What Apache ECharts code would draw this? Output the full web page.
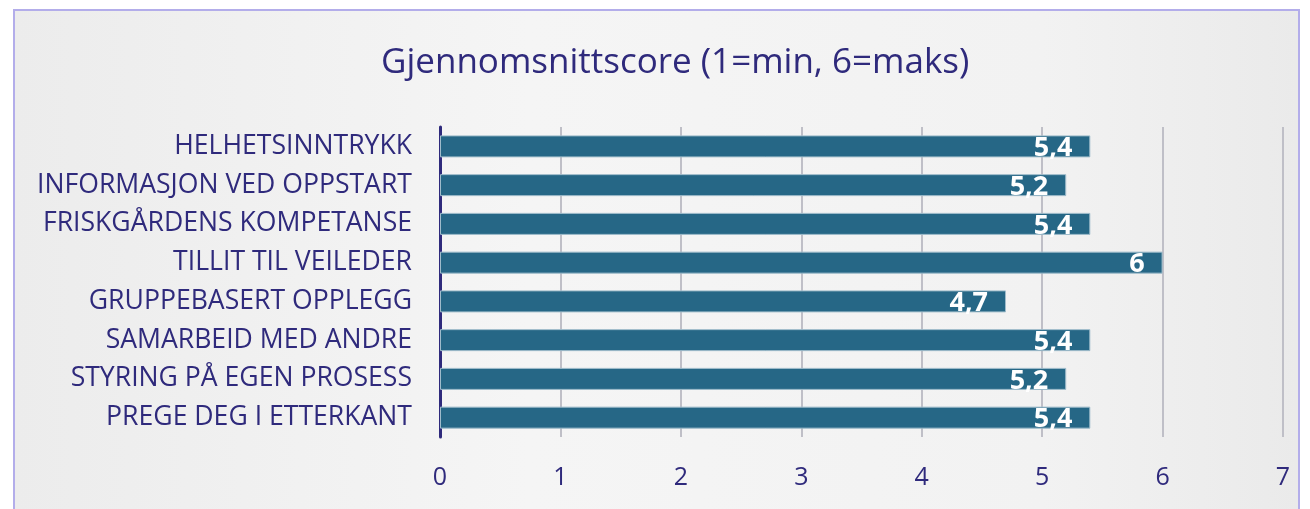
<!DOCTYPE html>
<html>
<head>
<meta charset="utf-8">
<script src="https://cdn.jsdelivr.net/npm/echarts@6/dist/echarts.min.js"></script>
<style>
  html, body { margin: 0; padding: 0; background: #fff; }
  .frame {
    position: absolute; left: 13px; top: 9px; width: 1287px; height: 510px;
    border: 2px solid #b3adea; box-sizing: border-box;
    background: linear-gradient(to right, #ececec, #f5f5f5 40%, #f2f2f2 80%, #eaeaea);
  }
  #main { position: absolute; left: 0; top: 0; width: 1310px; height: 509px; }
</style>
</head>
<body>
<div class="frame"></div>
<div id="main"></div>
<script>
// kategorier, ovenfra og ned
var categories = [
  "HELHETSINNTRYKK",
  "INFORMASJON VED OPPSTART",
  "FRISKGÅRDENS KOMPETANSE",
  "TILLIT TIL VEILEDER",
  "GRUPPEBASERT OPPLEGG",
  "SAMARBEID MED ANDRE",
  "STYRING PÅ EGEN PROSESS",
  "PREGE DEG I ETTERKANT"
];
var scores = [5.4, 5.2, 5.4, 6, 4.7, 5.4, 5.2, 5.4];
var xTicks = [0, 1, 2, 3, 4, 5, 6, 7];

var navy = "#2f2a7c";
var myChart = echarts.init(document.getElementById("main"));

myChart.setOption({
  backgroundColor: "transparent",
  title: {
    text: "Gjennomsnittscore (1=min, 6=maks)",
    left: 376,
    top: 41,
    textStyle: { fontFamily: "Open Sans", fontSize: 35, fontWeight: "normal", color: navy }
  },
  grid: { left: 440, right: 27, top: 127, bottom: 72 },
  xAxis: {
    type: "value",
    min: xTicks[0],
    max: xTicks[xTicks.length - 1],
    interval: 1,
    axisLine: { show: false },
    axisTick: { show: false },
    axisLabel: {
      margin: 28, fontFamily: "Open Sans", fontSize: 25, color: navy,
      formatter: function (v) { return String(v); }
    },
    splitLine: { lineStyle: { color: "#bfbfc7", width: 2 } }
  },
  yAxis: {
    type: "category",
    inverse: true,
    data: categories,
    axisLine: { lineStyle: { color: navy, width: 3 } },
    axisTick: { show: false },
    axisLabel: { margin: 28, fontFamily: "Open Sans", fontSize: 26.6, color: navy }
  },
  series: [{
    type: "bar",
    data: scores,
    barWidth: 22,
    itemStyle: { color: "#266786", borderColor: "#9fbccb", borderWidth: 1 },
    label: {
      show: true,
      position: "insideRight",
      distance: 18,
      color: "#fff",
      fontFamily: "Open Sans",
      fontWeight: "bold",
      fontSize: 27,
      offset: [0, 2],
      formatter: function (p) { return String(p.value).replace(".", ","); }
    }
  }]
});
</script>
</body>
</html>
